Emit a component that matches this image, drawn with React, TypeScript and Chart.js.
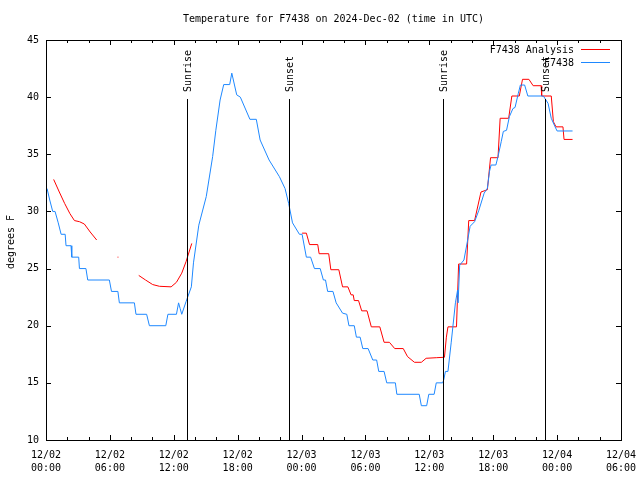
import React, { useEffect, useRef } from 'react';
import { Chart, registerables } from 'chart.js';

Chart.register(...registerables);

const TITLE = 'Temperature for F7438 on 2024-Dec-02 (time in UTC)';
const Y_TITLE = 'degrees F';
const FONT = "'DejaVu Sans Mono', monospace";

const X_MIN = 0;
const X_MAX = 54;
const Y_MIN = 10;
const Y_MAX = 45;
const X_TICK_LABELS: string[][] = [
  ['12/02', '00:00'], ['12/02', '06:00'], ['12/02', '12:00'], ['12/02', '18:00'],
  ['12/03', '00:00'], ['12/03', '06:00'], ['12/03', '12:00'], ['12/03', '18:00'],
  ['12/04', '00:00'], ['12/04', '06:00'],
];

const SUN_LABELS = ['Sunrise', 'Sunset', 'Sunrise', 'Sunset'];
const SUN_HOURS = [13.22, 22.81, 37.33, 46.88];

const SERIES_NAMES = ['F7438 Analysis', 'F7438'];
const SERIES_COLORS = ['#ff0000', '#1e88ff'];

// F7438 Analysis (hours since 12/02 00:00 UTC, deg F); null = gap
const ANALYSIS_HOURS = [
  0.72, 1.25, 1.75, 2.25, 2.67, 3.15, 3.6, 4.15, 4.76, 5.5,
  6.72, 6.8, 7.5,
  8.71, 9.35, 10.02, 10.65, 11.75, 12.25, 12.75, 13.15, 13.69, 18.0,
  24.05, 24.45, 24.75, 25.52, 25.65, 26.55, 26.75, 27.5, 27.85, 28.35, 28.65, 28.85,
  28.95, 29.35, 29.65, 30.15, 30.55, 31.35, 31.75, 32.25, 32.75, 33.55, 33.95, 34.6,
  35.25, 35.7, 36.65, 37.42, 37.6, 37.75, 38.55, 38.75, 39.5, 39.7, 40.25, 40.85,
  41.45, 41.75, 42.45, 42.65, 43.45, 43.75, 44.45, 44.75, 45.35, 45.75, 46.5, 46.55,
  47.45, 47.65, 47.9, 48.55, 48.65, 49.45,
];
const ANALYSIS_TEMPS = [
  32.8, 31.7, 30.7, 29.8, 29.2, 29.1, 28.9, 28.2, 27.5, null,
  26.0, 26.0, null,
  24.4, 24.0, 23.6, 23.45, 23.4, 23.8, 24.6, 25.6, 27.2, null,
  28.1, 28.1, 27.1, 27.1, 26.3, 26.3, 24.9, 24.9, 23.4, 23.4, 22.7, 22.7,
  22.2, 22.2, 21.3, 21.3, 19.9, 19.9, 18.55, 18.55, 18.0, 18.0, 17.3, 16.8,
  16.8, 17.15, 17.2, 17.24, 19.0, 19.9, 19.9, 25.4, 25.4, 29.2, 29.2, 31.7,
  31.9, 34.7, 34.7, 38.15, 38.15, 40.1, 40.1, 41.56, 41.56, 41.0, 41.0, 40.1,
  40.1, 37.85, 37.4, 37.4, 36.3, 36.3,
];

// F7438 observations
const OBS_HOURS = [
  0.1, 0.35, 0.63, 0.85, 1.15, 1.42, 1.8, 1.88, 2.35, 2.42, 3.07, 3.14, 3.75, 3.92,
  5.95, 6.15, 6.75, 6.89, 8.3, 8.45, 9.45, 9.71, 11.25, 11.45, 12.25, 12.45, 12.6,
  12.75, 13.15, 13.65, 13.85, 14.35, 15.05, 15.65, 15.95, 16.35, 16.69, 17.25, 17.45,
  17.91, 18.25, 19.15, 19.75, 20.11, 20.95, 21.92, 22.45, 22.79, 23.15, 23.8, 24.05,
  24.45, 24.85, 25.21, 25.75, 26.05, 26.25, 26.45, 26.95, 27.25, 27.85, 28.25, 28.45,
  28.95, 29.15, 29.5, 29.75, 30.25, 30.69, 31.05, 31.25, 31.75, 32.0, 32.81, 32.95,
  35.05, 35.25, 35.75, 35.95, 36.45, 36.65, 37.25, 37.35, 37.51, 37.75, 38.05, 38.45,
  38.65, 38.7, 38.85, 39.25, 39.6, 39.83, 40.25, 40.65, 41.15, 41.45, 41.65, 41.8,
  42.25, 42.45, 42.75, 42.95, 43.25, 43.52, 43.85, 44.05, 44.35, 44.55, 44.95, 45.25,
  46.71, 47.15, 47.45, 47.81, 48.0, 49.45,
];
const OBS_TEMPS = [
  32.0, 31.0, 30.0, 30.0, 29.0, 28.0, 28.0, 27.0, 27.0, 26.0, 26.0, 25.0, 25.0, 24.0,
  24.0, 23.0, 23.0, 22.0, 22.0, 21.0, 21.0, 20.0, 20.0, 21.0, 21.0, 22.0, 21.5,
  21.0, 22.1, 23.4, 25.5, 28.8, 31.3, 34.8, 37.1, 39.75, 41.1, 41.1, 42.1,
  40.2, 40.0, 38.06, 38.06, 36.25, 34.5, 33.04, 32.0, 30.7, 29.0, 28.0, 28.0,
  26.0, 26.0, 25.0, 25.0, 24.0, 24.0, 23.0, 23.0, 22.0, 21.1, 21.0, 20.0,
  20.0, 19.0, 19.0, 18.0, 18.0, 17.0, 17.0, 16.0, 16.0, 15.0, 15.0, 14.0,
  14.0, 13.0, 13.0, 14.0, 14.0, 15.0, 15.0, 15.25, 16.0, 16.0, 18.5, 22.0,
  23.1, 22.0, 25.3, 25.75, 27.5, 28.7, 29.1, 30.1, 31.6, 32.03, 33.5, 34.06,
  34.06, 34.8, 36.1, 37.0, 37.1, 38.3, 39.0, 39.1, 40.3, 41.06, 41.06, 40.1,
  40.1, 39.46, 38.15, 37.4, 37.04, 37.04,
];

const toPoints = (xs: number[], ys: (number | null)[]) =>
  xs.map((x, i) => ({ x, y: ys[i] }));

const decorPlugin = {
  id: 'decor',
  afterDatasetsDraw(chart: any) {
    const { ctx, chartArea } = chart;
    const { left, right, top, bottom } = chartArea;
    const xs = chart.scales.x;
    const ys = chart.scales.y;
    ctx.save();
    ctx.strokeStyle = '#000';
    ctx.fillStyle = '#000';
    ctx.lineWidth = 1;
    // frame
    ctx.strokeRect(left + 0.5, top + 0.5, right - left, bottom - top);
    // x ticks every 2 hours, mirrored
    ctx.beginPath();
    for (let h = X_MIN; h <= X_MAX; h += 2) {
      const px = Math.round(xs.getPixelForValue(h)) + 0.5;
      const len = h % 6 === 0 ? 5 : 3;
      ctx.moveTo(px, bottom);
      ctx.lineTo(px, bottom - len);
      ctx.moveTo(px, top);
      ctx.lineTo(px, top + len);
    }
    for (let v = Y_MIN; v <= Y_MAX; v += 5) {
      const py = Math.round(ys.getPixelForValue(v)) + 0.5;
      ctx.moveTo(left, py);
      ctx.lineTo(left + 5, py);
      ctx.moveTo(right, py);
      ctx.lineTo(right - 5, py);
    }
    ctx.stroke();

    // sunrise / sunset lines
    ctx.font = '10px ' + FONT;
    const lineTop = Math.round(bottom - 0.852 * (bottom - top));
    SUN_HOURS.forEach((h, i) => {
      const px = Math.round(xs.getPixelForValue(h)) + 0.5;
      ctx.beginPath();
      ctx.moveTo(px, lineTop);
      ctx.lineTo(px, bottom);
      ctx.stroke();
      ctx.save();
      ctx.translate(px + 1, lineTop - 7);
      ctx.rotate(-Math.PI / 2);
      ctx.textAlign = 'left';
      ctx.textBaseline = 'middle';
      ctx.fillText(SUN_LABELS[i], 0, 0);
      ctx.restore();
    });

    // legend
    ctx.textAlign = 'right';
    ctx.textBaseline = 'middle';
    SERIES_NAMES.forEach((name, i) => {
      const y = 50 + i * 13;
      ctx.fillStyle = '#000';
      ctx.fillText(name, 574, y);
      ctx.strokeStyle = SERIES_COLORS[i];
      ctx.beginPath();
      ctx.moveTo(581, y - 0.5);
      ctx.lineTo(610, y - 0.5);
      ctx.stroke();
    });

    // title
    ctx.fillStyle = '#000';
    ctx.textAlign = 'center';
    ctx.fillText(TITLE, (left + right) / 2, 19);

    // y title
    ctx.save();
    ctx.translate(11, 242);
    ctx.rotate(-Math.PI / 2);
    ctx.textAlign = 'center';
    ctx.textBaseline = 'middle';
    ctx.fillText(Y_TITLE, 0, 0);
    ctx.restore();
    ctx.restore();
  },
};

export default function App() {
  const ref = useRef<HTMLCanvasElement | null>(null);
  useEffect(() => {
    document.body.style.margin = '0';
    const canvas = ref.current;
    if (!canvas) return;
    const chart = new Chart(canvas, {
      type: 'line',
      data: {
        datasets: [
          {
            label: SERIES_NAMES[0],
            data: toPoints(ANALYSIS_HOURS, ANALYSIS_TEMPS),
            borderColor: SERIES_COLORS[0],
            borderWidth: 1,
            pointRadius: 0,
            spanGaps: false,
            tension: 0,
            order: 1,
          },
          {
            label: SERIES_NAMES[1],
            data: toPoints(OBS_HOURS, OBS_TEMPS),
            borderColor: SERIES_COLORS[1],
            borderWidth: 1,
            pointRadius: 0,
            spanGaps: false,
            tension: 0,
            order: 0,
          },
        ],
      },
      options: {
        animation: false,
        responsive: false,
        devicePixelRatio: 1,
        layout: { padding: { top: 40, right: 19, left: 0, bottom: 0 } },
        plugins: { legend: { display: false }, tooltip: { enabled: false }, title: { display: false } },
        scales: {
          x: {
            type: 'linear',
            min: X_MIN,
            max: X_MAX,
            grid: { display: false, drawTicks: false },
            border: { display: false },
            afterFit: (s: any) => {
              s.height = 40;
              s.paddingLeft = 0;
              s.paddingRight = 0;
            },
            afterBuildTicks: (s: any) => {
              s.ticks = X_TICK_LABELS.map((_, i) => ({ value: i * 6 }));
            },
            ticks: {
              autoSkip: false,
              maxRotation: 0,
              padding: 9,
              color: '#000',
              font: { family: FONT, size: 10, lineHeight: 1.3 },
              callback: (v: any) => X_TICK_LABELS[Math.round(Number(v) / 6)],
            },
          },
          y: {
            type: 'linear',
            min: Y_MIN,
            max: Y_MAX,
            grid: { display: false, drawTicks: false },
            border: { display: false },
            afterFit: (s: any) => {
              s.width = 46;
              s.paddingTop = 0;
              s.paddingBottom = 0;
            },
            ticks: {
              stepSize: 5,
              padding: 7,
              color: '#000',
              font: { family: FONT, size: 10 },
            },
          },
        },
      },
      plugins: [decorPlugin],
    });
    return () => chart.destroy();
  }, []);
  return (
    <div style={{ position: 'absolute', left: 0, top: 0 }}>
      <canvas ref={ref} width={640} height={480} style={{ display: 'block' }} />
    </div>
  );
}
